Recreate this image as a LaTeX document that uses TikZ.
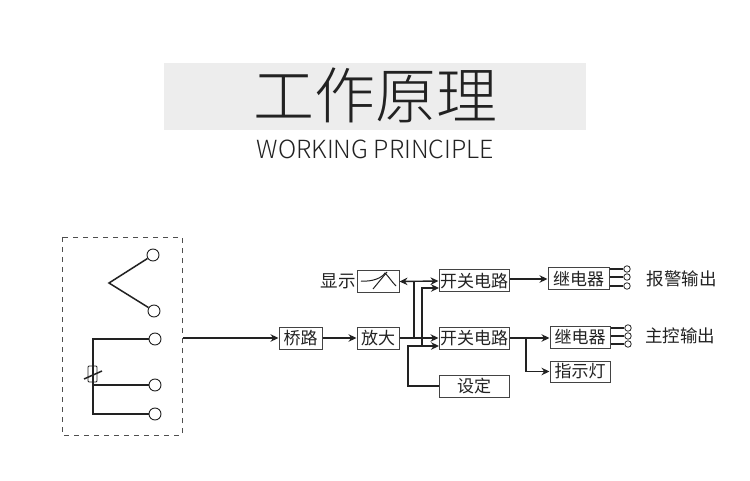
\documentclass[tikz,border=0pt]{standalone}
\usepackage{fontspec}
\setmainfont{Noto Sans CJK SC}
\newfontfamily\lightfont{Noto Sans CJK SC Light}
\usetikzlibrary{arrows.meta,calc}
\definecolor{ink}{HTML}{222222}
\tikzset{
  px/.style={x=1pt,y=-1pt},
  blockbox/.style={draw=ink!85,line width=1pt,fill=white,minimum height=22pt,inner sep=0pt,font=\fontsize{17}{17}\selectfont,text=ink},
  term/.style={circle,draw=ink,line width=0.9pt,fill=white,minimum size=12pt,inner sep=0pt},
  smallterm/.style={circle,draw=ink,line width=0.8pt,fill=white,minimum size=6.5pt,inner sep=0pt},
  wire/.style={draw=ink,line width=1.5pt},
  link/.style={draw=ink,line width=1.4pt},
  arrowed/.style={link,-{Stealth[length=8pt,width=7.5pt]}},
  lab/.style={inner sep=0pt,text=ink,font=\fontsize{17.5}{17.5}\selectfont}
}
\begin{document}
\begin{tikzpicture}[px]
\useasboundingbox (0,0) rectangle (750,481);
\fill[white] (0,0) rectangle (750,481);
\fill[black!7] (164,63) rectangle (586,130);
\node[inner sep=0pt,text=ink,font=\lightfont\fontsize{61}{61}\selectfont] (title) at (375.5,95) {工作原理};
\node[inner sep=0pt,text=ink,font=\lightfont\fontsize{25}{25}\selectfont] (subtitle) at (375.5,149) {WORKING PRINCIPLE};
% sensor box
\draw[draw=ink!80,line width=0.9pt,dash pattern=on 5pt off 5pt] (62,237) rectangle (182,435);
\node[term] (t1) at (153,255) {};
\node[term] (t2) at (154,311) {};
\node[term] (t3) at (155,339) {};
\node[term] (t4) at (155,385) {};
\node[term] (t5) at (155,414) {};
\coordinate (v) at (109,283);
\coordinate (jt) at (93,339);
\coordinate (jm) at (93,385);
\coordinate (jb) at (93,414);
\draw[wire] (t1) -- (v) -- (t2);
\draw[wire] (t3) -- (jt) -- (jb) -- (t5);
\draw[wire] (jm) -- (t4);
\draw[draw=ink,line width=0.9pt,rounded corners=1pt] (88,366) rectangle (97,382);
\draw[wire] (84,379) -- (102,371);
% blocks
\node[blockbox,minimum width=43pt] (bridge) at (300.5,338) {桥路};
\node[blockbox,minimum width=42pt] (amp) at (378,338) {放大};
\node[blockbox,minimum width=42pt] (disp) at (378,281.5) {};
\node[lab] (displab) at (338,281) {显示};
\node[blockbox,minimum width=70pt] (sw1) at (474,281) {开关电路};
\node[blockbox,minimum width=70pt] (sw2) at (474,338) {开关电路};
\node[blockbox,minimum width=70pt] (set) at (474,386) {设定};
\node[blockbox,minimum width=61pt] (rel1) at (578.5,279) {继电器};
\node[blockbox,minimum width=60pt] (rel2) at (580,337.5) {继电器};
\node[blockbox,minimum width=60pt,minimum height=21pt] (lamp) at (580,371.5) {指示灯};
\node[lab] (out1) at (681.5,279) {报警输出};
\node[lab] (out2) at (680,336) {主控输出};
% meter icon
\draw[draw=ink,line width=1pt] (361,281) .. controls (372,282) and (382,278) .. (385,273) .. controls (389,277) and (392,282) .. (396,286);
\draw[draw=ink,line width=1pt] (373,289) -- (387,272);
% connectors
\coordinate (entry) at (183,338);
\draw[arrowed,line width=1.7pt] (entry) -- (bridge.west);
\draw[arrowed] (bridge.east) -- (amp.west);
\draw[arrowed] (amp.east) -- (sw2.west);
\coordinate (b1) at (414,338);
\coordinate (b1t) at (414,281);
\draw[link] (b1) -- (b1t);
\draw[link,{Stealth[length=8pt,width=7.5pt]}-{Stealth[length=8pt,width=7.5pt]}] (disp.east) -- (sw1.west);
\coordinate (b2t) at (422,288);
\coordinate (b2b) at (422,346);
\coordinate (s1in) at (439,288);
\coordinate (s2in) at (439,346);
\coordinate (b3) at (408,346);
\draw[arrowed] (b2b) -- (b2t) -- (s1in);
\draw[arrowed] (set.west) -| (b3) -- (s2in);
\draw[arrowed] (sw1.east |- rel1) -- (rel1.west);
\draw[arrowed] (sw2.east) -- (sw2.east -| rel2.west);
\coordinate (b4) at (526,338);
\draw[arrowed] (b4) |- (lamp.west);
% output terminals
\node[smallterm] (o1) at (627,269) {};
\node[smallterm] (o2) at (627,277) {};
\node[smallterm] (o3) at (627,286) {};
\node[smallterm] (o4) at (628,328) {};
\node[smallterm] (o5) at (628,336) {};
\node[smallterm] (o6) at (628,344) {};
\draw[link] (o1) -- (o1 -| rel1.east);
\draw[link] (o2) -- (o2 -| rel1.east);
\draw[link] (o3) -- (o3 -| rel1.east);
\draw[link] (o4) -- (o4 -| rel2.east);
\draw[link] (o5) -- (o5 -| rel2.east);
\draw[link] (o6) -- (o6 -| rel2.east);
\end{tikzpicture}
\end{document}
